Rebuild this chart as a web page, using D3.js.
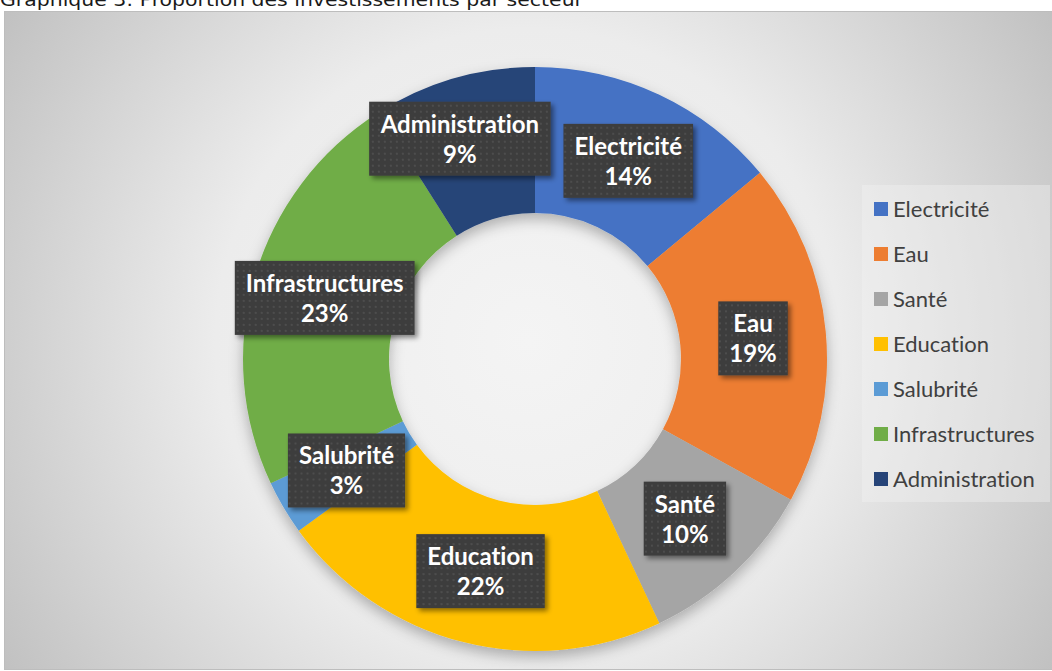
<!DOCTYPE html>
<html>
<head>
<meta charset="utf-8">
<script src="https://cdn.jsdelivr.net/npm/d3@7"></script>
<style>
  html, body { margin: 0; padding: 0; background: #ffffff; }
  svg { display: block; }
  text { font-variant-ligatures: none; font-feature-settings: "liga" 0, "dlig" 0; }
</style>
</head>
<body>
<svg id="chart" width="1052" height="671"></svg>
<script>
// Investment share by sector (percent)
const sectors = ["Electricité", "Eau", "Santé", "Education", "Salubrité", "Infrastructures", "Administration"];
const shares  = [14, 19, 10, 22, 3, 23, 9];
const colors  = ["#4472C4", "#ED7D31", "#A5A5A5", "#FFC000", "#5B9BD5", "#70AD47", "#264478"];
const title   = "Graphique 3: Proportion des investissements par secteur";

const W = 1052, H = 671;
const svg = d3.select("#chart");
const defs = svg.append("defs");

// chart area background: radial grey gradient
const bg = defs.append("radialGradient")
  .attr("id", "bgGrad").attr("gradientUnits", "userSpaceOnUse")
  .attr("cx", 528).attr("cy", 341).attr("r", 625);
bg.append("stop").attr("offset", 0).attr("stop-color", "#f4f4f4");
bg.append("stop").attr("offset", 0.5).attr("stop-color", "#ececec");
bg.append("stop").attr("offset", 1).attr("stop-color", "#c0c0c0");

// soft shadow under the ring
const ringShadow = defs.append("filter").attr("id", "ringShadow")
  .attr("x", "-20%").attr("y", "-20%").attr("width", "140%").attr("height", "140%");
ringShadow.append("feDropShadow").attr("dx", 0).attr("dy", 6)
  .attr("stdDeviation", 7).attr("flood-color", "#000").attr("flood-opacity", 0.28);

// shadow of the label boxes
const boxShadow = defs.append("filter").attr("id", "boxShadow")
  .attr("x", "-20%").attr("y", "-30%").attr("width", "140%").attr("height", "160%");
boxShadow.append("feDropShadow").attr("dx", 3).attr("dy", 3)
  .attr("stdDeviation", 2.5).attr("flood-color", "#000").attr("flood-opacity", 0.45);

// dotted dark fill of the label boxes
const pat = defs.append("pattern").attr("id", "dots")
  .attr("patternUnits", "userSpaceOnUse").attr("width", 6).attr("height", 6);
pat.append("rect").attr("width", 6).attr("height", 6).attr("fill", "#3d3d3d");
pat.append("rect").attr("x", 2).attr("y", 2).attr("width", 2).attr("height", 2).attr("fill", "#4d4d4d");

// title (sits just above the chart frame, its top trimmed by the page edge)
svg.append("text")
  .attr("x", 0).attr("y", 6)
  .attr("font-family", "'DejaVu Sans', sans-serif")
  .attr("font-size", 18)
  .attr("fill", "#1a1a1a")
  .attr("textLength", 583).attr("lengthAdjust", "spacingAndGlyphs")
  .text(title);

// chart frame
svg.append("rect")
  .attr("x", 4.5).attr("y", 11.5).attr("width", W - 4).attr("height", H - 13)
  .attr("fill", "url(#bgGrad)").attr("stroke", "#bdbdbd").attr("stroke-width", 1);

// donut
const cx = 535, cy = 359, outerR = 292, innerR = 146;
const data = sectors.map((s, i) => ({ sector: s, value: shares[i], color: colors[i] }));
const pie = d3.pie().value(d => d.value).sort(null);
const arc = d3.arc().innerRadius(innerR).outerRadius(outerR);
const labelArc = d3.arc().innerRadius((innerR + outerR) / 2).outerRadius((innerR + outerR) / 2);
const arcs = pie(data);

const ring = svg.append("g").attr("transform", `translate(${cx},${cy})`)
  .attr("filter", "url(#ringShadow)");
ring.selectAll("path").data(arcs).join("path")
  .attr("d", arc)
  .attr("fill", d => d.data.color);

// data labels: dark boxes with name and percentage
const nudge = { "Administration": [-14, -10] };
const labels = svg.append("g").attr("transform", `translate(${cx},${cy})`);
arcs.forEach(a => {
  let [x, y] = labelArc.centroid(a);
  const n = nudge[a.data.sector];
  if (n) { x += n[0]; y += n[1]; }
  const g = labels.append("g").attr("transform", `translate(${x},${y})`);
  const box = g.append("rect").attr("fill", "url(#dots)").attr("filter", "url(#boxShadow)");
  const t = g.append("text")
    .attr("text-anchor", "middle")
    .attr("font-family", "Lato, 'Noto Sans', sans-serif")
    .attr("font-weight", "bold")
    .attr("font-size", 24)
    .attr("fill", "#ffffff");
  t.append("tspan").attr("x", 0).attr("y", -6).text(a.data.sector);
  t.append("tspan").attr("x", 0).attr("y", 24).text(a.data.value + "%");
  const w = t.node().getBBox().width + 22;
  box.attr("x", -w / 2).attr("y", -37).attr("width", w).attr("height", 74);
});

// legend
const legend = svg.append("g");
legend.append("rect")
  .attr("x", 862).attr("y", 185).attr("width", 188).attr("height", 317)
  .attr("fill", "#f2f2f2").attr("fill-opacity", 0.4);
const rowY = d3.scalePoint().domain(sectors).range([209, 479]);
const rows = legend.selectAll("g.row").data(data).join("g")
  .attr("class", "row")
  .attr("transform", d => `translate(874,${rowY(d.sector)})`);
rows.append("rect").attr("x", 0).attr("y", -7).attr("width", 14).attr("height", 14)
  .attr("fill", d => d.color);
rows.append("text").attr("x", 19).attr("y", 0).attr("dy", "0.36em")
  .attr("font-family", "Lato, 'Noto Sans', sans-serif")
  .attr("font-size", 22).attr("fill", "#404040")
  .text(d => d.sector);
</script>
</body>
</html>
